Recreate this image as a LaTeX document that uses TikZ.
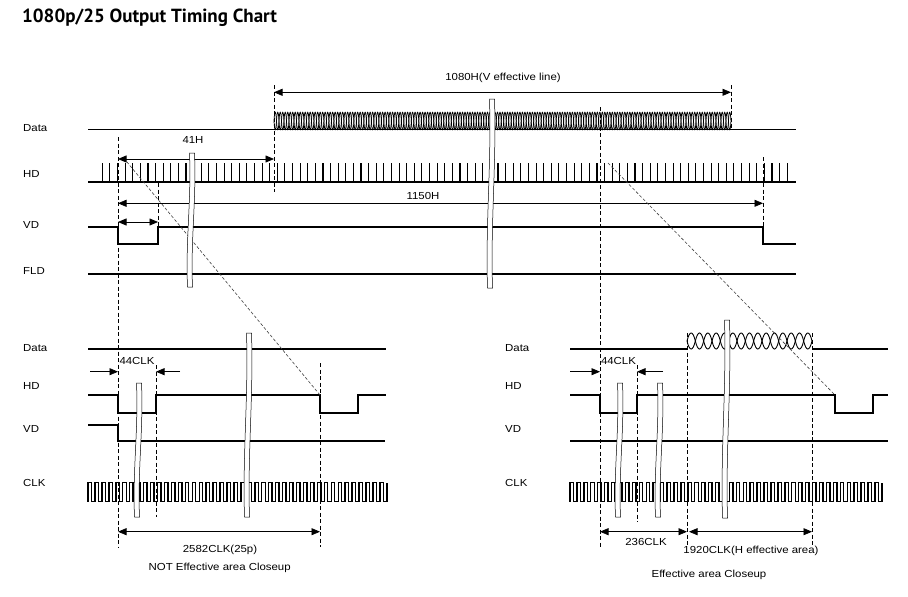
\documentclass[tikz,border=0pt]{standalone}
\usepackage{fontspec}
\setmainfont[FakeStretch=1.12]{Liberation Sans}
\newfontfamily\titlefont{PT Sans}
\usetikzlibrary{arrows.meta}
\newcommand{\brkband}[3]{%
  \pgfmathsetmacro\brkh{#3-#2}%
  \filldraw[brk] ({#1-1.5},#2) .. controls ({#1+0.5},{#2+0.35*\brkh}) and ({#1-5.5},{#2+0.65*\brkh}) .. ({#1-3.5},#3)
    -- ({#1+1.5},#3) .. controls ({#1-0.5},{#2+0.65*\brkh}) and ({#1+5.5},{#2+0.35*\brkh}) .. ({#1+3.5},#2) -- cycle;}
\begin{document}
\begin{tikzpicture}[x=1pt,y=-1pt,
  wave/.style={line width=1.9pt, line join=miter},
  pulse/.style={line width=1.1pt},
  clkw/.style={line width=1.4pt, line join=miter},
  eye/.style={line width=0.75pt},
  dim/.style={line width=0.7pt, {Triangle[length=8.5pt,width=7pt]}-{Triangle[length=8.5pt,width=7pt]}},
  dimr/.style={line width=0.7pt, -{Triangle[length=8.5pt,width=7pt]}},
  guide/.style={line width=0.6pt, dash pattern=on 4pt off 2.5pt},
  diag/.style={line width=0.6pt, dash pattern=on 3pt off 2pt, black!75},
  brk/.style={fill=white, draw=black, line width=0.5pt},
  lbl/.style={font=\fontsize{10.2}{12}\selectfont, inner sep=0pt},
  sig/.style={lbl, anchor=west}]
\useasboundingbox[fill=white] (0,0) rectangle (908,597);

% title
\node[anchor=base west, inner sep=0pt, font=\titlefont\bfseries\fontsize{19}{22}\selectfont] (title) at (22,22.7) {1080p/25 Output Timing Chart};

% ---------------- top chart ----------------
\node[sig] (tData) at (23,128) {Data};
\node[sig] (tHD) at (23,174) {HD};
\node[sig] (tVD) at (23,225) {VD};
\node[sig] (tFLD) at (23,271) {FLD};

% guides
\draw[guide] (118,137) -- (118,547);
\draw[guide] (274,85) -- (274,192);
\draw[guide] (158,183) -- (158,226);
\draw[guide] (600,107) -- (600,547);
\draw[guide] (731,85) -- (731,129);
\draw[guide] (763,157) -- (763,226);

% Data
\draw[wave] (88,129.5) -- (796,129.5);
\foreach \i in {0,...,182}{
  \pgfmathsetmacro\xa{274+\i*2.497}\pgfmathsetmacro\xb{274+(\i+1)*2.497}
  \draw[eye] (\xa,121) .. controls (\xa+0.6,109.3) and (\xb-0.6,109.3) .. (\xb,121)
    .. controls (\xb-0.6,132.7) and (\xa+0.6,132.7) .. (\xa,121);
}
% HD
\draw[wave] (88,181.7) -- (796,181.7);
\foreach \i in {0,...,90}{ \draw[pulse] ({102.3+\i*7.61},182) -- ({102.3+\i*7.61},163); }
% VD
\draw[wave] (88,226.7) -- (118,226.7) -- (118,244) -- (158,244) -- (158,226.7) -- (763,226.7) -- (763,244) -- (796,244);
% FLD
\draw[wave] (88,274.3) -- (796,274.3);

% dimensions
\coordinate (a1080l) at (274,92.3); \coordinate (a1080r) at (731,92.3);
\draw[dim] (a1080l) -- (a1080r);
\node[lbl] (l1080) at (503,78) {1080H(V effective line)};
\coordinate (a41l) at (118,159); \coordinate (a41r) at (274,159);
\draw[dim] (a41l) -- (a41r);
\node[lbl] (l41) at (193,140) {41H};
\coordinate (a1150l) at (118,203.3); \coordinate (a1150r) at (763,203.3);
\draw[dim] (a1150l) -- (a1150r);
\node[lbl] (l1150) at (423,196) {1150H};
\coordinate (avdl) at (118,222); \coordinate (avdr) at (158,222);
\draw[dim] (avdl) -- (avdr);

% ---------------- bottom left ----------------
\node[sig] (lData) at (23,348) {Data};
\node[sig] (lHD) at (23,386) {HD};
\node[sig] (lVD) at (23,429) {VD};
\node[sig] (lCLK) at (23,483) {CLK};

\draw[guide] (156,365) -- (156,517);
\draw[guide] (320,363) -- (320,547);

\draw[wave] (88,349) -- (386,349);
\draw[wave] (88,395) -- (118,395) -- (118,412.7) -- (156,412.7) -- (156,395) -- (320,395) -- (320,412.7) -- (358,412.7) -- (358,395) -- (386,395);
\draw[wave] (88,425) -- (118,425) -- (118,440.7) -- (385,440.7);
\draw[clkw] (88,501.7) \foreach \i in {0,...,42}{ -- ++(0,-19) -- ++(3.475,0) -- ++(0,19) -- ++(3.475,0) } -- ++(0,-19);

\coordinate (c44a) at (90,371.7); \coordinate (c44b) at (118,371.7);
\coordinate (c44c) at (180,371.7); \coordinate (c44d) at (156,371.7);
\draw[dimr] (c44a) -- (c44b);
\draw[dimr] (c44c) -- (c44d);
\node[lbl] (l44a) at (137,361) {44CLK};
\coordinate (c2582l) at (118,531.7); \coordinate (c2582r) at (320,531.7);
\draw[dim] (c2582l) -- (c2582r);
\node[lbl] (l2582) at (220,550) {2582CLK(25p)};
\node[lbl] (capL) at (219.7,568) {NOT Effective area Closeup};

% ---------------- bottom right ----------------
\node[sig] (rData) at (505,348) {Data};
\node[sig] (rHD) at (505,386) {HD};
\node[sig] (rVD) at (505,429) {VD};
\node[sig] (rCLK) at (505,483) {CLK};

\draw[guide] (637,365) -- (637,522);
\draw[guide] (687,333) -- (687,547);
\draw[guide] (812,333) -- (812,547);

\draw[wave] (570,349) -- (687,349);
\draw[wave] (812,349) -- (888,349);
\foreach \i in {0,...,14}{
  \pgfmathsetmacro\xa{687+\i*8.333}\pgfmathsetmacro\xb{687+(\i+1)*8.333}
  \draw[line width=0.9pt] (\xa,341) .. controls (\xa+2.6,330.3) and (\xb-2.6,330.3) .. (\xb,341)
    .. controls (\xb-2.6,351.7) and (\xa+2.6,351.7) .. (\xa,341);
}
\draw[wave] (570,395) -- (600,395) -- (600,412.7) -- (637,412.7) -- (637,395) -- (835,395) -- (835,412.7) -- (873,412.7) -- (873,395) -- (888,395);
\draw[wave] (570,440.7) -- (888,440.7);
\draw[clkw] (570,501.7) \foreach \i in {0,...,44}{ -- ++(0,-19) -- ++(3.465,0) -- ++(0,19) -- ++(3.465,0) } -- ++(0,-19);

\coordinate (d44a) at (570,371.7); \coordinate (d44b) at (600,371.7);
\coordinate (d44c) at (663,371.7); \coordinate (d44d) at (637,371.7);
\draw[dimr] (d44a) -- (d44b);
\draw[dimr] (d44c) -- (d44d);
\node[lbl] (l44b) at (618.5,361) {44CLK};
\coordinate (c236l) at (600,531.7); \coordinate (c236r) at (687,531.7);
\draw[dim] (c236l) -- (c236r);
\node[lbl] (l236) at (646,541.7) {236CLK};
\coordinate (c1920l) at (689,531.7); \coordinate (c1920r) at (812,531.7);
\draw[dim] (c1920l) -- (c1920r);
\node[lbl] (l1920) at (751,550.7) {1920CLK(H effective area)};
\node[lbl] (capR) at (709,575) {Effective area Closeup};

% diagonal zoom lines
\coordinate (dgl1) at (126.7,161.7); \coordinate (dgl2) at (320,395);
\coordinate (dgr1) at (608,163); \coordinate (dgr2) at (835,395);
\draw[diag] (dgl1) -- (dgl2);
\draw[diag] (dgr1) -- (dgr2);

% break marks
\brkband{191}{153}{287}
\brkband{491}{99}{288}
\brkband{138}{383}{517}
\brkband{248}{333}{517}
\brkband{619}{383}{517}
\brkband{659}{383}{517}
\brkband{726}{320}{518}
\end{tikzpicture}
\end{document}
